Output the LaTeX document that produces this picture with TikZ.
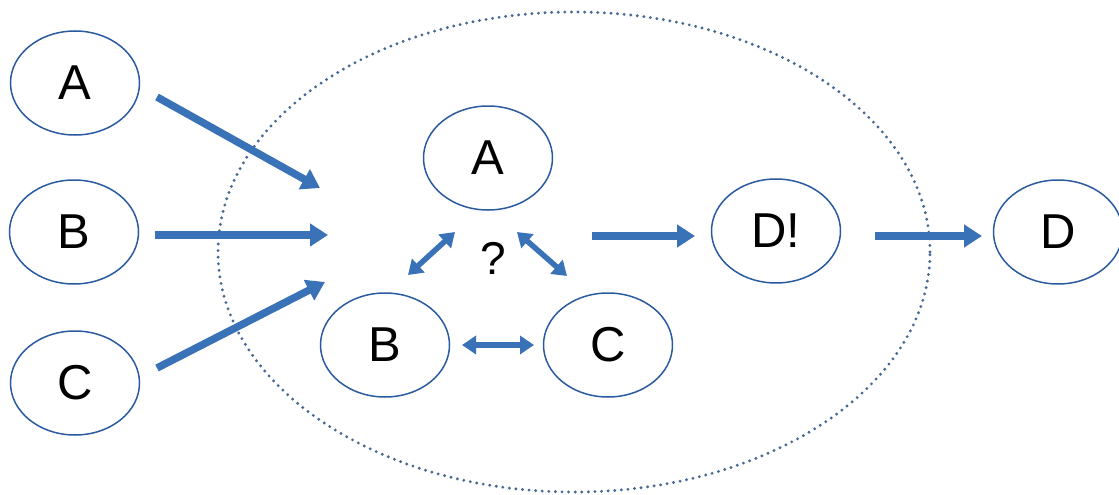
\documentclass[tikz,border=0pt]{standalone}
\usepackage{fontspec}
\setmainfont{Liberation Sans}
\usetikzlibrary{shapes.geometric,arrows.meta}
\definecolor{ringblue}{HTML}{2A5AA0}
\definecolor{flowblue}{HTML}{3A72B8}
\definecolor{dotblue}{HTML}{466894}
\begin{document}
\begin{tikzpicture}[x=1pt,y=-1pt,
  agent/.style={ellipse, draw=ringblue, line width=1.5pt, minimum width=129pt, minimum height=104pt, inner sep=0pt,
    font=\fontsize{49}{57}\selectfont},
  flow/.style={draw=flowblue, line width=7.5pt, -{Triangle[length=18pt,width=22pt]}},
  link/.style={draw=flowblue, line width=5.5pt, {Triangle[length=14pt,width=18pt]}-{Triangle[length=14pt,width=18pt]}}]
  \useasboundingbox (0,0) rectangle (1119,495);
  % enclosing group boundary
  \node (group) [ellipse, draw=dotblue, line width=3.2pt, line cap=round, dash pattern=on 0pt off 6.6pt,
    minimum width=712pt, minimum height=480pt] at (574,252) {};
  % outside agents
  \node[agent] (a1) at (75,83) {A};
  \node[agent] (b1) at (74,232) {B};
  \node[agent] (c1) at (75,383) {C};
  % agents inside the group
  \node[agent] (a2) at (488,158) {A};
  \node[agent] (b2) at (385,345) {B};
  \node[agent] (c2) at (608,345) {C};
  \node[agent] (d2) at (776,231) {D!};
  \node[agent] (d3) at (1058,232) {D};
  \node (q) at (493,258) {\fontsize{46}{54}\selectfont ?};
  % arrow end points
  \coordinate (a1s) at (157,97);   \coordinate (a1e) at (320,188);
  \coordinate (b1s) at (155,235);  \coordinate (b1e) at (328,235);
  \coordinate (c1s) at (157,368);  \coordinate (c1e) at (325,282);
  \coordinate (gs) at (592,236);   \coordinate (ge) at (695,236);
  \coordinate (ds) at (875,236);   \coordinate (de) at (982,236);
  \coordinate (ab1) at (408,275);  \coordinate (ab2) at (455,232);
  \coordinate (ac1) at (517,232);  \coordinate (ac2) at (567,276);
  \coordinate (bc1) at (462,345);  \coordinate (bc2) at (534,345);
  % inputs into the group
  \draw[flow] (a1s) -- (a1e);
  \draw[flow] (b1s) -- (b1e);
  \draw[flow] (c1s) -- (c1e);
  % group output
  \draw[flow] (gs) -- (ge);
  \draw[flow] (ds) -- (de);
  % interactions among members
  \draw[link] (ab1) -- (ab2);
  \draw[link] (ac1) -- (ac2);
  \draw[link] (bc1) -- (bc2);
\end{tikzpicture}
\end{document}
